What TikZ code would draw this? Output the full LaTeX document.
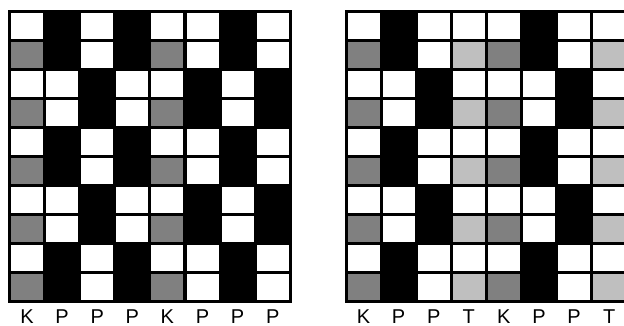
\documentclass[tikz,border=0pt]{standalone}
\usepackage{fontspec}
\setmainfont{Liberation Sans}
\definecolor{cW}{gray}{1}
\definecolor{cB}{gray}{0}
\definecolor{cG}{gray}{0.5}
\definecolor{cL}{gray}{0.75}
\begin{document}
\begin{tikzpicture}[x=1pt, y=-1pt,
    cell/.style={line width=0pt},
    lbl/.style={font=\fontsize{20}{20}\selectfont, anchor=base, inner sep=0pt}]
    \useasboundingbox (0,0) rectangle (624,325);
    \clip (0,0) rectangle (624,325);

    % left grid: black ground, cells set in it
    \fill[black] (8,10) rectangle (291.8,303);
    \foreach \row [count=\r] in {{W,B,W,B,W,W,B,W}, {G,B,W,B,G,W,B,W},
        {W,W,B,W,W,B,W,B}, {G,W,B,W,G,B,W,B}, {W,B,W,B,W,W,B,W},
        {G,B,W,B,G,W,B,W}, {W,W,B,W,W,B,W,B}, {G,W,B,W,G,B,W,B},
        {W,B,W,B,W,W,B,W}, {G,B,W,B,G,W,B,W}} {
        \foreach \c [count=\k] in \row {
            \fill[c\c] ({11+35.1*(\k-1)},{13+29*(\r-1)}) rectangle +(32,26);
        }
    }

    % right grid (runs past the edge)
    \fill[black] (344.5,10) rectangle (628.3,303);
    \foreach \row [count=\r] in {{W,B,W,W,W,B,W,W}, {G,B,W,L,G,B,W,L},
        {W,W,B,W,W,W,B,W}, {G,W,B,L,G,W,B,L}, {W,B,W,W,W,B,W,W},
        {G,B,W,L,G,B,W,L}, {W,W,B,W,W,W,B,W}, {G,W,B,L,G,W,B,L},
        {W,B,W,W,W,B,W,W}, {G,B,W,L,G,B,W,L}} {
        \foreach \c [count=\k] in \row {
            \fill[c\c] ({347.5+35.1*(\k-1)},{13+29*(\r-1)}) rectangle +(32,26);
        }
    }

    % column labels
    \foreach \t [count=\k] in {K,P,P,P,K,P,P,P}
        \node[lbl] (lblA\k) at ({27+35.1*(\k-1)},323.5) {\t};
    \foreach \t [count=\k] in {K,P,P,T,K,P,P,T}
        \node[lbl] (lblB\k) at ({363.5+35.1*(\k-1)},323.5) {\t};
\end{tikzpicture}
\end{document}
